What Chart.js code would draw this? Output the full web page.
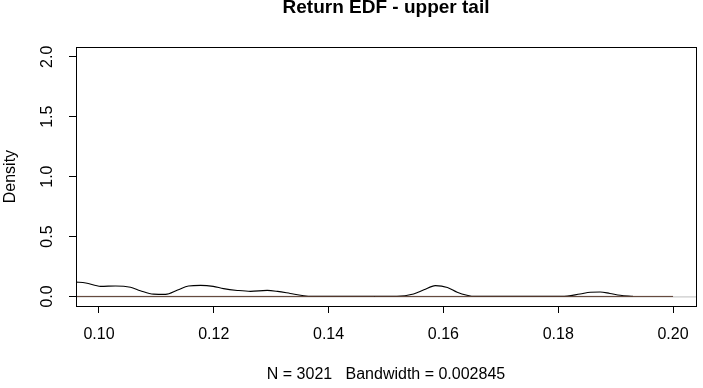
<!DOCTYPE html>
<html>
<head>
<meta charset="utf-8">
<script src="https://cdn.jsdelivr.net/npm/chart.js@4.4.1/dist/chart.umd.min.js"></script>
<style>
  html, body { margin: 0; padding: 0; background: #fff; }
  #wrap { width: 703px; height: 388px; }
</style>
</head>
<body>
<div id="wrap"><canvas id="densityChart"></canvas></div>
<script>
// Kernel density estimate
const densX = [0.0959, 0.0977, 0.1003, 0.1029, 0.1055, 0.1072, 0.1095, 0.1116, 0.1137, 0.1156,
  0.1177, 0.1199, 0.1217, 0.1241, 0.1264, 0.1293, 0.1311, 0.1333, 0.1354, 0.1370,
  0.1519, 0.1548, 0.1566, 0.1586, 0.1607, 0.1624, 0.1641, 0.1655,
  0.1806, 0.1838, 0.1856, 0.1873, 0.1890, 0.1908, 0.1930];
const densY = [0.120, 0.112, 0.084, 0.087, 0.076, 0.048, 0.019, 0.017, 0.053, 0.087,
  0.092, 0.084, 0.065, 0.050, 0.042, 0.050, 0.042, 0.025, 0.008, 0.000,
  0.000, 0.020, 0.055, 0.090, 0.075, 0.035, 0.010, 0.000,
  0.000, 0.020, 0.035, 0.037, 0.025, 0.010, 0.000];

// baseline segment over the sample range
const baseX = [0.096, 0.200];
const baseY = [0, 0];

const xTicks = [0.10, 0.12, 0.14, 0.16, 0.18, 0.20];
const yTicks = [0.0, 0.5, 1.0, 1.5, 2.0];

const titleText = 'Return EDF - upper tail';
const xLabel = 'N = 3021   Bandwidth = 0.002845';
const yLabel = 'Density';

const FONT = 'Liberation Sans, Arial, sans-serif';

function toPoints(xs, ys) {
  return xs.map((x, i) => ({ x: x, y: ys[i] }));
}

// box round the plot region and grey zero line (R style)
const boxPlugin = {
  id: 'box',
  beforeDatasetsDraw(chart) {
    const { ctx, chartArea: a, scales } = chart;
    const y0 = scales.y.getPixelForValue(0);
    ctx.save();
    ctx.strokeStyle = '#bdbdbd';
    ctx.lineWidth = 1;
    ctx.beginPath();
    ctx.moveTo(a.left, y0 + 0.5);
    ctx.lineTo(a.right, y0 + 0.5);
    ctx.stroke();
    ctx.restore();
  },
  afterDraw(chart) {
    const { ctx, chartArea: a } = chart;
    ctx.save();
    ctx.strokeStyle = '#000';
    ctx.lineWidth = 1;
    ctx.strokeRect(Math.round(a.left) + 0.5, Math.round(a.top) + 0.5,
      Math.round(a.right - a.left), Math.round(a.bottom - a.top));
    ctx.restore();
  }
};

new Chart(document.getElementById('densityChart'), {
  type: 'line',
  data: {
    datasets: [
      {
        label: 'zero',
        data: toPoints(baseX, baseY),
        borderColor: '#5c3d30',
        borderWidth: 1,
        pointRadius: 0,
        order: 0
      },
      {
        label: 'density',
        data: toPoints(densX, densY),
        borderColor: '#000',
        borderWidth: 1.1,
        pointRadius: 0,
        cubicInterpolationMode: 'monotone',
        order: 1
      }
    ]
  },
  options: {
    responsive: true,
    maintainAspectRatio: false,
    animation: false,
    layout: { padding: { left: 0, right: 7, top: 0, bottom: 0 } },
    plugins: {
      legend: { display: false },
      tooltip: { enabled: false },
      title: {
        display: true,
        text: titleText,
        fullSize: false,
        color: '#000',
        font: { family: FONT, size: 19, weight: 'bold', lineHeight: 0.8 },
        padding: { top: 0, bottom: 32 }
      }
    },
    scales: {
      x: {
        type: 'linear',
        min: 0.096,
        max: 0.204,
        afterBuildTicks: (scale) => { scale.ticks = xTicks.map(v => ({ value: v })); },
        afterFit: (scale) => { scale.height = 82; },
        border: { display: false },
        grid: { drawOnChartArea: false, drawTicks: true, tickLength: 7, color: '#000' },
        ticks: {
          color: '#000',
          font: { family: FONT, size: 16 },
          padding: 12,
          maxRotation: 0,
          autoSkip: false,
          callback: (v) => v.toFixed(2)
        },
        title: {
          display: true,
          text: xLabel,
          color: '#000',
          font: { family: FONT, size: 16 },
          padding: { top: 0, bottom: 4 }
        }
      },
      y: {
        type: 'linear',
        min: -0.08,
        max: 2.08,
        afterBuildTicks: (scale) => { scale.ticks = yTicks.map(v => ({ value: v })); },
        afterFit: (scale) => { scale.width = 76; },
        border: { display: false },
        grid: { drawOnChartArea: false, drawTicks: true, tickLength: 7, color: '#000' },
        ticks: {
          color: '#000',
          font: { family: FONT, size: 16 },
          padding: 10,
          minRotation: 90,
          maxRotation: 90,
          crossAlign: 'center',
          autoSkip: false,
          callback: (v) => v.toFixed(1)
        },
        title: {
          display: true,
          text: yLabel,
          color: '#000',
          font: { family: FONT, size: 16 },
          padding: { top: 1, bottom: 0 }
        }
      }
    }
  },
  plugins: [boxPlugin]
});
</script>
</body>
</html>
